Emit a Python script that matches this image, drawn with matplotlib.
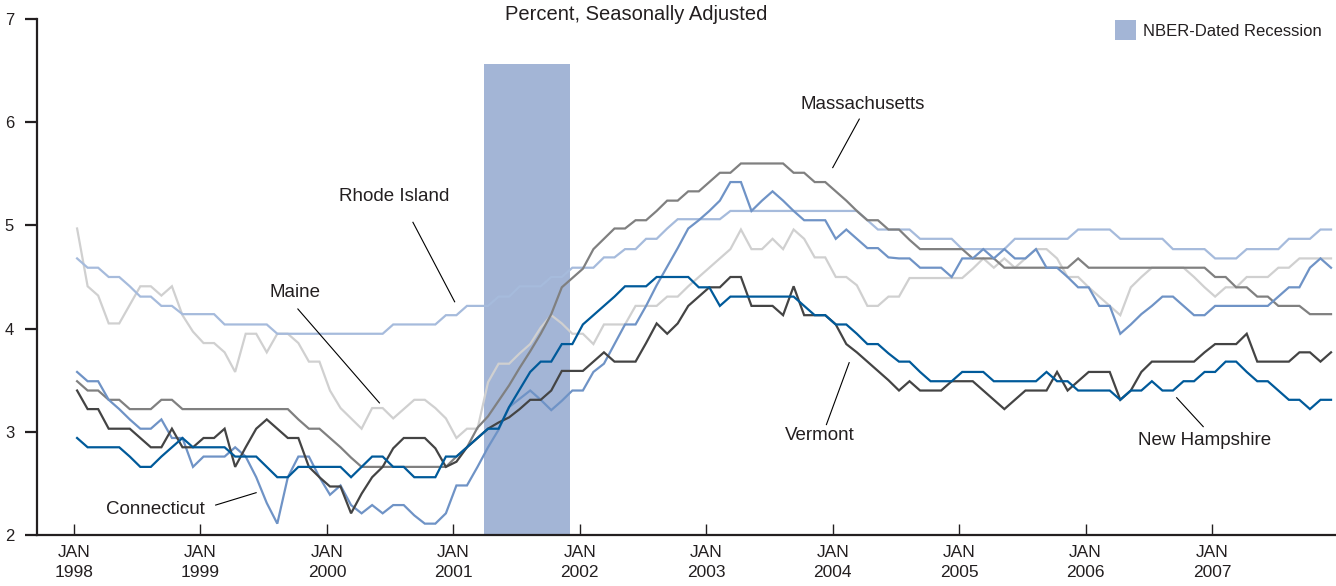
import matplotlib
matplotlib.use("Agg")
import matplotlib.pyplot as plt
from matplotlib.patches import Patch
import numpy as np

plt.rcParams['font.family'] = ['Liberation Sans', 'DejaVu Sans']

# monthly unemployment rates, Jan 1998 .. Dec 2007 (percent, SA)
rhode_island = [
    4.68, 4.59, 4.59, 4.50, 4.50, 4.41, 4.31, 4.31, 4.22, 4.22,
    4.14, 4.14, 4.14, 4.14, 4.04, 4.04, 4.04, 4.04, 4.04, 3.95,
    3.95, 3.95, 3.95, 3.95, 3.95, 3.95, 3.95, 3.95, 3.95, 3.95,
    4.04, 4.04, 4.04, 4.04, 4.04, 4.13, 4.13, 4.22, 4.22, 4.22,
    4.31, 4.31, 4.41, 4.41, 4.41, 4.50, 4.50, 4.59, 4.59, 4.59,
    4.69, 4.69, 4.77, 4.77, 4.87, 4.87, 4.97, 5.06, 5.06, 5.06,
    5.06, 5.06, 5.14, 5.14, 5.14, 5.14, 5.14, 5.14, 5.14, 5.14,
    5.14, 5.14, 5.14, 5.14, 5.14, 5.05, 4.96, 4.96, 4.96, 4.96,
    4.87, 4.87, 4.87, 4.87, 4.77, 4.77, 4.77, 4.77, 4.77, 4.87,
    4.87, 4.87, 4.87, 4.87, 4.87, 4.96, 4.96, 4.96, 4.96, 4.87,
    4.87, 4.87, 4.87, 4.87, 4.77, 4.77, 4.77, 4.77, 4.68, 4.68,
    4.68, 4.77, 4.77, 4.77, 4.77, 4.87, 4.87, 4.87, 4.96, 4.96,
]
maine = [
    4.97, 4.41, 4.32, 4.05, 4.05, 4.23, 4.41, 4.41, 4.32, 4.41,
    4.13, 3.97, 3.86, 3.86, 3.77, 3.58, 3.95, 3.95, 3.77, 3.95,
    3.95, 3.86, 3.68, 3.68, 3.40, 3.23, 3.13, 3.03, 3.23, 3.23,
    3.13, 3.22, 3.31, 3.31, 3.23, 3.13, 2.94, 3.03, 3.03, 3.48,
    3.66, 3.66, 3.76, 3.85, 4.01, 4.13, 4.05, 3.95, 3.95, 3.85,
    4.04, 4.04, 4.04, 4.22, 4.22, 4.22, 4.31, 4.31, 4.41, 4.50,
    4.59, 4.68, 4.77, 4.96, 4.77, 4.77, 4.87, 4.77, 4.96, 4.87,
    4.69, 4.69, 4.50, 4.50, 4.42, 4.22, 4.22, 4.31, 4.31, 4.49,
    4.49, 4.49, 4.49, 4.49, 4.49, 4.58, 4.68, 4.59, 4.68, 4.59,
    4.68, 4.77, 4.77, 4.68, 4.50, 4.50, 4.40, 4.31, 4.22, 4.13,
    4.40, 4.50, 4.59, 4.59, 4.59, 4.59, 4.50, 4.40, 4.31, 4.40,
    4.40, 4.50, 4.50, 4.50, 4.59, 4.59, 4.68, 4.68, 4.68, 4.68,
]
massachusetts = [
    3.49, 3.40, 3.40, 3.31, 3.31, 3.22, 3.22, 3.22, 3.31, 3.31,
    3.22, 3.22, 3.22, 3.22, 3.22, 3.22, 3.22, 3.22, 3.22, 3.22,
    3.22, 3.12, 3.03, 3.03, 2.94, 2.85, 2.75, 2.66, 2.66, 2.66,
    2.66, 2.66, 2.66, 2.66, 2.66, 2.66, 2.76, 2.85, 3.04, 3.15,
    3.30, 3.45, 3.62, 3.78, 3.95, 4.14, 4.40, 4.49, 4.58, 4.77,
    4.87, 4.97, 4.97, 5.05, 5.05, 5.14, 5.24, 5.24, 5.33, 5.33,
    5.42, 5.51, 5.51, 5.60, 5.60, 5.60, 5.60, 5.60, 5.51, 5.51,
    5.42, 5.42, 5.33, 5.24, 5.14, 5.05, 5.05, 4.96, 4.96, 4.86,
    4.77, 4.77, 4.77, 4.77, 4.77, 4.68, 4.68, 4.68, 4.59, 4.59,
    4.59, 4.59, 4.59, 4.59, 4.59, 4.68, 4.59, 4.59, 4.59, 4.59,
    4.59, 4.59, 4.59, 4.59, 4.59, 4.59, 4.59, 4.59, 4.50, 4.50,
    4.40, 4.40, 4.31, 4.31, 4.22, 4.22, 4.22, 4.14, 4.14, 4.14,
]
connecticut = [
    3.58, 3.49, 3.49, 3.31, 3.22, 3.12, 3.03, 3.03, 3.12, 2.94,
    2.94, 2.66, 2.76, 2.76, 2.76, 2.85, 2.76, 2.56, 2.31, 2.11,
    2.56, 2.76, 2.76, 2.56, 2.39, 2.48, 2.29, 2.21, 2.29, 2.21,
    2.29, 2.29, 2.19, 2.11, 2.11, 2.21, 2.48, 2.48, 2.66, 2.85,
    3.02, 3.24, 3.32, 3.40, 3.31, 3.21, 3.30, 3.40, 3.40, 3.58,
    3.66, 3.85, 4.04, 4.04, 4.22, 4.42, 4.60, 4.78, 4.97, 5.05,
    5.14, 5.24, 5.42, 5.42, 5.14, 5.24, 5.33, 5.24, 5.14, 5.05,
    5.05, 5.05, 4.87, 4.96, 4.87, 4.78, 4.78, 4.69, 4.68, 4.68,
    4.59, 4.59, 4.59, 4.50, 4.68, 4.68, 4.77, 4.68, 4.77, 4.68,
    4.68, 4.77, 4.59, 4.59, 4.50, 4.40, 4.40, 4.22, 4.22, 3.95,
    4.04, 4.14, 4.22, 4.31, 4.31, 4.22, 4.13, 4.13, 4.22, 4.22,
    4.22, 4.22, 4.22, 4.22, 4.31, 4.40, 4.40, 4.59, 4.68, 4.59,
]
vermont = [
    3.40, 3.22, 3.22, 3.03, 3.03, 3.03, 2.94, 2.85, 2.85, 3.03,
    2.85, 2.85, 2.94, 2.94, 3.03, 2.66, 2.85, 3.03, 3.12, 3.03,
    2.94, 2.94, 2.66, 2.56, 2.47, 2.47, 2.21, 2.40, 2.56, 2.66,
    2.84, 2.94, 2.94, 2.94, 2.84, 2.66, 2.71, 2.85, 2.94, 3.03,
    3.09, 3.14, 3.22, 3.31, 3.31, 3.40, 3.59, 3.59, 3.59, 3.68,
    3.77, 3.68, 3.68, 3.68, 3.86, 4.05, 3.95, 4.05, 4.22, 4.31,
    4.40, 4.40, 4.50, 4.50, 4.22, 4.22, 4.22, 4.13, 4.41, 4.13,
    4.13, 4.13, 4.04, 3.85, 3.77, 3.68, 3.59, 3.50, 3.40, 3.49,
    3.40, 3.40, 3.40, 3.49, 3.49, 3.49, 3.40, 3.31, 3.22, 3.31,
    3.40, 3.40, 3.40, 3.58, 3.40, 3.49, 3.58, 3.58, 3.58, 3.31,
    3.40, 3.58, 3.68, 3.68, 3.68, 3.68, 3.68, 3.77, 3.85, 3.85,
    3.85, 3.95, 3.68, 3.68, 3.68, 3.68, 3.77, 3.77, 3.68, 3.77,
]
new_hampshire = [
    2.94, 2.85, 2.85, 2.85, 2.85, 2.76, 2.66, 2.66, 2.76, 2.85,
    2.94, 2.85, 2.85, 2.85, 2.85, 2.76, 2.76, 2.76, 2.66, 2.56,
    2.56, 2.66, 2.66, 2.66, 2.66, 2.66, 2.56, 2.66, 2.76, 2.76,
    2.66, 2.66, 2.56, 2.56, 2.56, 2.76, 2.76, 2.85, 2.94, 3.03,
    3.03, 3.24, 3.41, 3.58, 3.68, 3.68, 3.85, 3.85, 4.04, 4.13,
    4.22, 4.31, 4.41, 4.41, 4.41, 4.50, 4.50, 4.50, 4.50, 4.40,
    4.40, 4.22, 4.31, 4.31, 4.31, 4.31, 4.31, 4.31, 4.31, 4.22,
    4.13, 4.13, 4.04, 4.04, 3.95, 3.85, 3.85, 3.76, 3.68, 3.68,
    3.58, 3.49, 3.49, 3.49, 3.58, 3.58, 3.58, 3.49, 3.49, 3.49,
    3.49, 3.49, 3.58, 3.49, 3.49, 3.40, 3.40, 3.40, 3.40, 3.31,
    3.40, 3.40, 3.49, 3.40, 3.40, 3.49, 3.49, 3.58, 3.58, 3.68,
    3.68, 3.58, 3.49, 3.49, 3.40, 3.31, 3.31, 3.22, 3.31, 3.31,
]

years = list(range(1998, 2008))
tick_labels = ["JAN\n%d" % y for y in years]

# NBER recession (decimal years) and band top
rec_start, rec_end, rec_top = 2001.24, 2001.92, 6.56

# x positions: monthly, slightly into the month
t = 1998.024 + np.arange(len(maine)) / 12.0

txt = "#231f20"
fig = plt.figure(figsize=(13.36, 5.86), dpi=100)
ax = fig.add_axes([37 / 1336, 51 / 586, 1 - 37 / 1336, 516 / 586])

ax.fill_between([rec_start, rec_end], 2, rec_top, color="#a3b5d6", lw=0, zorder=1)

series = [
    (maine, "#d0d0d0"),
    (rhode_island, "#a6bbdc"),
    (massachusetts, "#808080"),
    (connecticut, "#6f93c6"),
    (vermont, "#444444"),
    (new_hampshire, "#005a9a"),
]
for vals, col in series:
    ax.plot(t, vals, color=col, lw=1.6, zorder=3, solid_joinstyle="miter")

ax.set_xlim(1997.707, 2007.98)
ax.set_ylim(2, 7)
for s in ["top", "right"]:
    ax.spines[s].set_visible(False)
for s in ["left", "bottom"]:
    ax.spines[s].set_linewidth(1.6)
    ax.spines[s].set_color(txt)

ax.set_xticks(years)
ax.set_xticklabels(tick_labels, fontsize=12.5, color=txt, linespacing=1.42)
ax.tick_params(axis="x", direction="in", length=8, width=1.0, pad=7, color=txt)
ax.set_yticks([2, 3, 4, 5, 6, 7])
ax.tick_params(axis="y", direction="out", length=8.5, width=1.6, pad=8,
               labelsize=12, color=txt, labelcolor=txt)

# state labels with leader lines
labels = [
    ("Rhode Island", 2000.53, 5.28, (2000.68, 5.03), (2001.01, 4.26)),
    ("Maine", 1999.75, 4.35, (1999.77, 4.19), (2000.415, 3.28)),
    ("Connecticut", 1998.64, 2.25, (1999.12, 2.29), (1999.44, 2.41)),
    ("Massachusetts", 2004.24, 6.17, (2004.21, 6.03), (2004.0, 5.56)),
    ("Vermont", 2003.90, 2.96, (2004.13, 3.67), (2003.95, 3.07)),
    ("New Hampshire", 2006.94, 2.92, (2006.72, 3.33), (2006.93, 3.05)),
]
for name, lx, ly, p0, p1 in labels:
    ax.text(lx, ly, name, ha="center", va="center", fontsize=13.5, color=txt, zorder=5)
    ax.plot([p0[0], p1[0]], [p0[1], p1[1]], color="black", lw=0.8, zorder=5)

fig.text(636 / 1336, 1 - 15 / 586, "Percent, Seasonally Adjusted",
         ha="center", va="center", fontsize=14.5, color=txt)

leg = ax.legend(handles=[Patch(facecolor="#a3b5d6", edgecolor="none",
                               label="NBER-Dated Recession")],
                loc="upper right", bbox_to_anchor=(1322 / 1336, 1 - 20 / 586),
                bbox_transform=fig.transFigure, frameon=False, fontsize=12,
                handlelength=1.25, handleheight=1.5, handletextpad=0.45,
                borderaxespad=0, borderpad=0)
for tx in leg.get_texts():
    tx.set_color(txt)

fig.savefig("out.png", dpi=100)
